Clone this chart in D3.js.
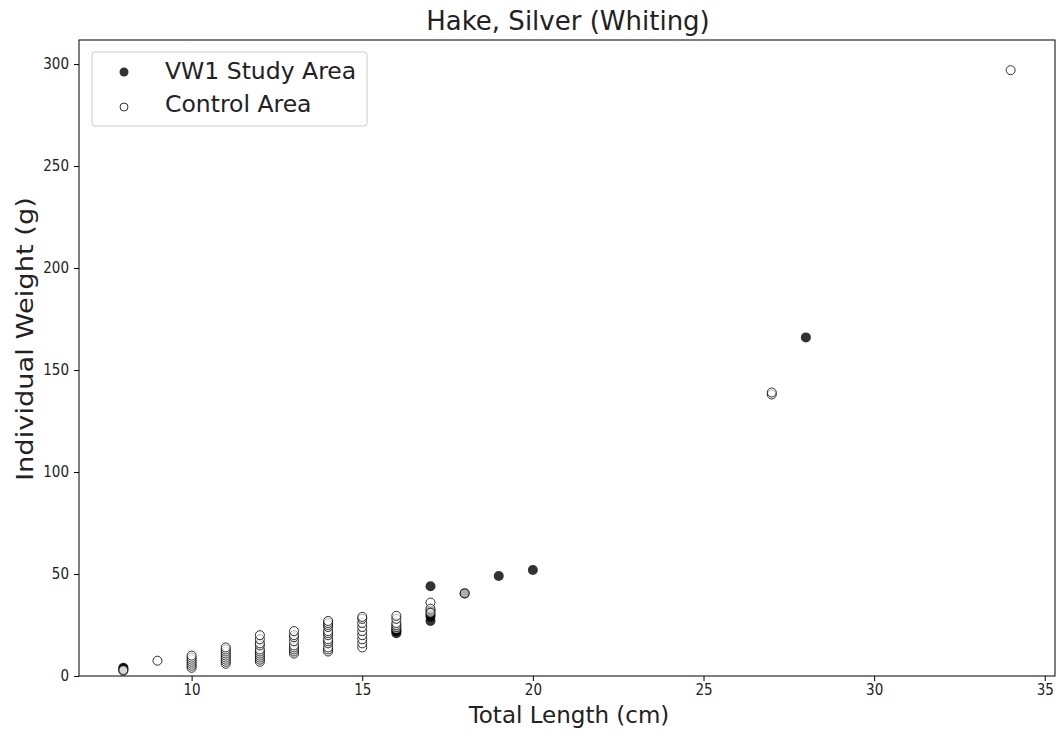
<!DOCTYPE html>
<html><head><meta charset="utf-8">
<script src="https://cdn.jsdelivr.net/npm/d3@7"></script>
<style>body{margin:0;background:#fff;font-family:"DejaVu Sans",sans-serif;}</style>
</head><body><svg id="c" width="1057" height="732"></svg>
<script>
const title = "Hake, Silver (Whiting)";
const xLabel = "Total Length (cm)";
const yLabel = "Individual Weight (g)";
const seriesNames = ["VW1 Study Area", "Control Area"];
const xTicks = [10, 15, 20, 25, 30, 35];
const yTicks = [0, 50, 100, 150, 200, 250, 300];

const vwLength = [8, 8, 16, 16, 16, 17, 17, 17, 17, 17, 18, 19, 20, 28];
const vwWeight = [4, 3.5, 21, 22, 22.5, 44, 32, 30, 29, 27, 40.5, 49, 52, 166];

const ctlLength = [8, 8, 9,
  10, 10, 10, 10, 10, 10, 10,
  11, 11, 11, 11, 11, 11, 11, 11, 11,
  12, 12, 12, 12, 12, 12, 12, 12, 12, 12, 12,
  13, 13, 13, 13, 13, 13, 13, 13, 13,
  14, 14, 14, 14, 14, 14, 14, 14, 14, 14, 14, 14, 14,
  15, 15, 15, 15, 15, 15, 15, 15, 15,
  16, 16, 16, 16, 16, 16,
  17, 17, 17, 18, 27, 27, 34];
const ctlWeight = [2.5, 3, 7.5,
  4, 5, 6, 7, 8, 9, 10,
  6, 7, 8, 9, 10, 11, 12, 13, 14,
  7, 8, 9, 10, 11, 12, 13, 15, 16, 18, 20,
  11, 12, 13, 14, 15, 17, 19, 20, 22,
  12, 13, 14, 16, 17, 18, 20, 21, 22, 24, 25, 26, 27,
  14, 16, 18, 20, 22, 24, 26, 28, 29,
  23, 24, 25, 26, 28, 29.5,
  36, 33, 31, 40.5, 138, 139, 297];

const svg = d3.select("#c");
const L = 79, R = 1055, T = 40, B = 676;
const x = d3.scaleLinear().domain([6.7, 35.3]).range([L, R]);
const y = d3.scaleLinear().domain([0, 311.8]).range([B, T]);

svg.append("rect").attr("x", L).attr("y", T).attr("width", R - L).attr("height", B - T)
  .attr("fill", "none").attr("stroke", "#000").attr("stroke-width", 1);

const xa = svg.append("g").attr("transform", `translate(0,${B})`)
  .call(d3.axisBottom(x).tickValues(xTicks).tickSize(5).tickPadding(3).tickFormat(d3.format("d")));
const ya = svg.append("g").attr("transform", `translate(${L},0)`)
  .call(d3.axisLeft(y).tickValues(yTicks).tickSize(5).tickPadding(5).tickFormat(d3.format("d")));
[xa, ya].forEach(a => {
  a.select(".domain").remove();
  a.selectAll("text").attr("font-family", "'DejaVu Sans Condensed','DejaVu Sans',sans-serif")
    .attr("font-stretch", "condensed").attr("font-size", 15).attr("fill", "#222");
  a.selectAll("line").attr("stroke", "#000");
});

const r = 5;
svg.append("g").selectAll("circle").data(vwLength.map((d, i) => [d, vwWeight[i]])).join("circle")
  .attr("cx", d => x(d[0])).attr("cy", d => y(d[1])).attr("r", r)
  .attr("fill", "#000").attr("fill-opacity", 0.8).attr("stroke", "none");
svg.append("g").selectAll("circle").data(ctlLength.map((d, i) => [d, ctlWeight[i]])).join("circle")
  .attr("cx", d => x(d[0])).attr("cy", d => y(d[1])).attr("r", r - 0.5)
  .attr("fill", "#fff").attr("fill-opacity", 0.6).attr("stroke", "#000").attr("stroke-opacity", 0.8).attr("stroke-width", 1);

svg.append("text").attr("x", 568).attr("y", 30).attr("text-anchor", "middle")
  .attr("font-size", 26).attr("fill", "#222").text(title);
svg.append("text").attr("x", 569).attr("y", 723).attr("text-anchor", "middle")
  .attr("font-size", 23).attr("fill", "#222").text(xLabel);
svg.append("text").attr("transform", `translate(33,339) rotate(-90)`).attr("text-anchor", "middle")
  .attr("font-size", 23).attr("textLength", 284).attr("lengthAdjust", "spacingAndGlyphs")
  .attr("fill", "#222").text(yLabel);

const lg = svg.append("g");
lg.append("rect").attr("x", 92).attr("y", 52).attr("width", 275).attr("height", 74).attr("rx", 3)
  .attr("fill", "#fff").attr("fill-opacity", 0.8).attr("stroke", "#ccc");
lg.append("circle").attr("cx", 124).attr("cy", 72).attr("r", 4.5).attr("fill", "#000").attr("fill-opacity", 0.8);
lg.append("circle").attr("cx", 124).attr("cy", 107).attr("r", 4).attr("fill", "#fff").attr("stroke", "#000").attr("stroke-opacity", 0.8);
lg.append("text").attr("x", 165).attr("y", 79).attr("font-size", 23.5).attr("fill", "#222").text(seriesNames[0]);
lg.append("text").attr("x", 165).attr("y", 112).attr("font-size", 23.5).attr("fill", "#222").text(seriesNames[1]);
</script></body></html>
